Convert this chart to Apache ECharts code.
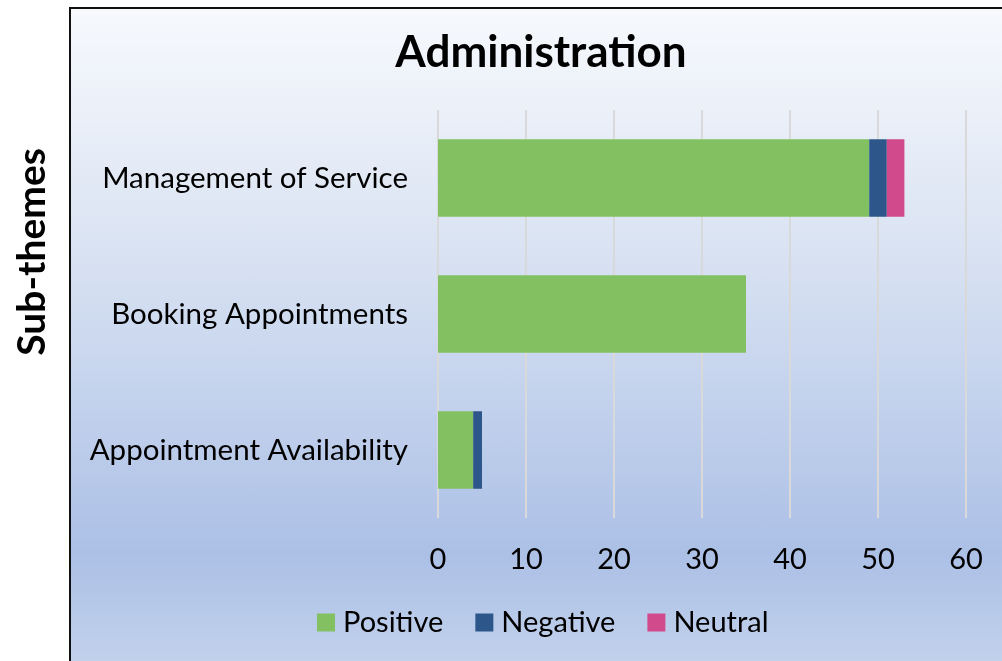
<!DOCTYPE html>
<html>
<head>
<meta charset="utf-8">
<script src="https://cdn.jsdelivr.net/npm/echarts@6/dist/echarts.min.js"></script>
<style>
  html, body { margin: 0; padding: 0; background: #fff; }
  #frame {
    position: absolute; left: 69px; top: 7px; width: 940px; height: 660px;
    border: 2px solid #111; box-sizing: border-box;
    background: linear-gradient(to bottom, #f7f9fd 0%, #dbe4f3 35%, #acc0e6 83%, #c2d2ec 100%);
  }
  #chart { position: absolute; left: 0; top: 0; width: 1002px; height: 661px; }
</style>
</head>
<body>
<div id="frame"></div>
<div id="chart"></div>
<script>
// categories listed bottom-to-top (category axis on y)
const subThemes = ['Appointment Availability', 'Booking Appointments', 'Management of Service'];
const positive = [4, 35, 49];
const negative = [1, 0, 2];
const neutral = [0, 0, 2];

const FONT = 'Lato, "Open Sans", sans-serif';

const chart = echarts.init(document.getElementById('chart'), null, { renderer: 'canvas' });

const barSeries = (name, data, color) => ({
  name: name,
  type: 'bar',
  stack: 'total',
  barWidth: '57%',
  data: data,
  itemStyle: { color: color }
});

chart.setOption({
  backgroundColor: 'transparent',
  animation: false,
  title: {
    text: 'Administration',
    left: 536,
    top: 26,
    textAlign: 'center',
    textStyle: { fontFamily: FONT, fontWeight: 'bold', fontSize: 44, color: '#000' }
  },
  legend: {
    left: 312,
    top: 603,
    itemWidth: 18,
    itemHeight: 18,
    itemGap: 32,
    icon: 'rect',
    textStyle: { fontFamily: FONT, fontSize: 29, color: '#000', padding: [0, 0, 0, 3] },
    data: ['Positive', 'Negative', 'Neutral']
  },
  grid: { left: 438, right: 36, top: 110, bottom: 143 },
  xAxis: {
    type: 'value',
    min: 0,
    max: 60,
    interval: 10,
    axisLine: { show: false },
    axisTick: { show: false },
    axisLabel: { fontFamily: FONT, fontSize: 29, color: '#000', margin: 27 },
    splitLine: { show: true, lineStyle: { color: '#d9d9d9', width: 2 } }
  },
  yAxis: {
    type: 'category',
    data: subThemes,
    axisLine: { show: false },
    axisTick: { show: false },
    axisLabel: { fontFamily: FONT, fontSize: 29.5, color: '#000', margin: 30 }
  },
  graphic: [{
    type: 'text',
    left: 13,
    top: 148,
    rotation: Math.PI / 2,
    style: {
      text: 'Sub-themes',
      font: 'bold 39px ' + FONT,
      fill: '#000'
    }
  }],
  series: [
    barSeries('Positive', positive, '#82c062'),
    barSeries('Negative', negative, '#2d568a'),
    barSeries('Neutral', neutral, '#d14a8c')
  ]
});
</script>
</body>
</html>
